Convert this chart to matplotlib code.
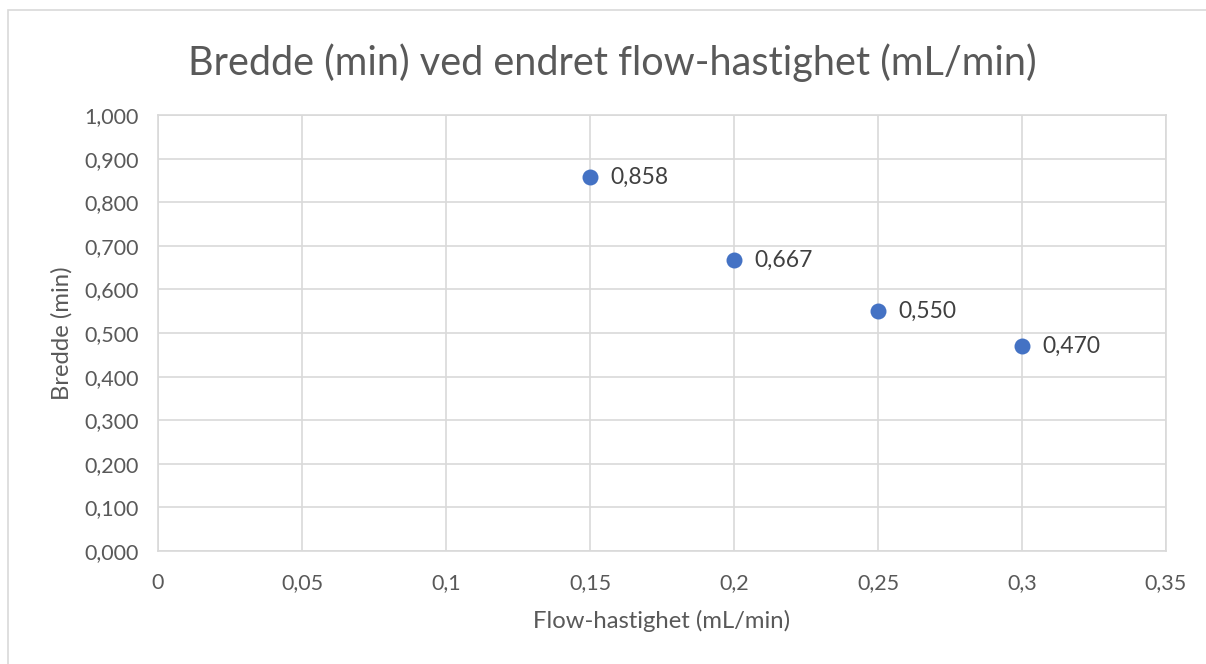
import matplotlib.pyplot as plt
from matplotlib.patches import Rectangle
from matplotlib.ticker import FuncFormatter, MultipleLocator

plt.rcParams['font.family'] = ['Lato', 'DejaVu Sans']

# flow rate (mL/min) and peak width (min)
flow = [0.15, 0.2, 0.25, 0.3]
bredde = [0.858, 0.667, 0.550, 0.470]

txt = '#595959'
grid = '#d9d9d9'

fig = plt.figure(figsize=(12.06, 6.64), dpi=100)
ax = fig.add_axes([0.131, 0.1702, 0.8358, 0.6566])

# outer chart border
fig.patches.append(Rectangle((8 / 1206, -0.02), 1.2, 1 - 10 / 664 + 0.02,
                             transform=fig.transFigure, fill=False,
                             edgecolor=grid, linewidth=1.2))

ax.scatter(flow, bredde, s=11.5 ** 2, color='#4472C4', zorder=3, linewidths=0)
for x, y in zip(flow, bredde):
    ax.annotate(f'{y:.3f}'.replace('.', ','), (x, y), xytext=(15, 0),
                textcoords='offset points', va='center', ha='left',
                fontsize=16.5, color='#404040')

ax.set_xlim(0, 0.35)
ax.set_ylim(0, 1.0)
ax.xaxis.set_major_locator(MultipleLocator(0.05))
ax.yaxis.set_major_locator(MultipleLocator(0.1))


def fmt_x(v, pos):
    s = f'{v:.2f}'.rstrip('0').rstrip('.')
    return s.replace('.', ',')


ax.xaxis.set_major_formatter(FuncFormatter(fmt_x))
ax.yaxis.set_major_formatter(FuncFormatter(lambda v, p: f'{v:.3f}'.replace('.', ',')))

ax.grid(True, color=grid, linewidth=1.2)
ax.set_axisbelow(True)
for s in ax.spines.values():
    s.set_color(grid)
    s.set_linewidth(1.2)
ax.tick_params(length=0, colors=txt, labelsize=15.5)
ax.tick_params(axis='y', pad=14)
ax.tick_params(axis='x', pad=16)

ax.set_xlabel('Flow-hastighet (mL/min)', fontsize=17.2, color=txt, labelpad=12)
ax.set_ylabel('Bredde (min)', fontsize=17.2, color=txt, labelpad=8)
fig.text(0.5075, 0.905, 'Bredde (min) ved endret flow-hastighet (mL/min)',
         ha='center', va='center', fontsize=28.5, color=txt)

fig.savefig('out.png', dpi=100)
